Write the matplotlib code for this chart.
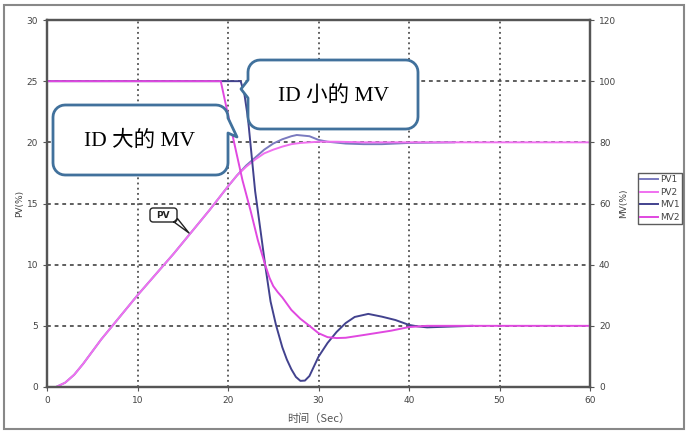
import numpy as np
import matplotlib.pyplot as plt
from matplotlib.patches import Polygon, Rectangle
from matplotlib.transforms import Affine2D

# --- data ---
t_pv1 = [1, 2, 3, 4, 5, 6, 7, 8, 10, 12, 14, 16, 18, 20, 21, 22, 23, 24, 25, 26, 27,
         27.6, 29, 30, 31, 33, 35, 37, 40, 45]
pv1 = [0, 0.35, 1.0, 1.9, 2.9, 3.9, 4.8, 5.7, 7.5, 9.2, 10.9, 12.7, 14.5, 16.4, 17.3,
       18.1, 18.75, 19.4, 19.9, 20.25, 20.5, 20.6, 20.5, 20.2, 20.05, 19.9, 19.85,
       19.85, 19.95, 20.0]

t_pv2 = [1, 2, 3, 4, 5, 6, 7, 8, 10, 12, 14, 16, 18, 20, 21, 22, 23, 24, 25, 26, 27,
         28, 30, 32, 35, 60]
pv2 = [0, 0.35, 1.0, 1.9, 2.9, 3.9, 4.8, 5.7, 7.5, 9.2, 10.9, 12.7, 14.5, 16.4, 17.3,
       18.0, 18.6, 19.1, 19.4, 19.65, 19.85, 19.95, 20.05, 20.05, 20.0, 20.0]

t_mv1 = [0, 21.4, 21.8, 22.2, 22.5, 23.0, 23.6, 24.1, 24.7, 25.3, 26, 26.5, 27, 27.5,
         28, 28.5, 29, 30, 31, 32, 33, 34, 35.5, 37, 38.5, 40, 41, 42, 43, 45, 47]
mv1 = [100, 100, 96, 88, 79, 64, 51, 40, 28, 20.3, 13, 9.0, 5.8, 3.3, 2.0, 2.1, 3.6,
       9.9, 14.4, 18, 20.9, 22.9, 23.9, 23, 21.9, 20.3, 19.8, 19.5, 19.6, 19.8, 20]

t_mv2 = [0, 19.2, 20, 21, 21.6, 22.5, 23.3, 24.1, 24.6, 25, 25.5, 26, 27, 28, 29, 30,
         31, 32, 33, 35, 38, 40, 42, 60]
mv2 = [100, 100, 89, 75.6, 67.6, 57.6, 48, 40, 35.6, 33.0, 31.0, 29.3, 25.2, 22.3, 20,
       17.6, 16.3, 16, 16.1, 17, 18.4, 19.6, 20, 20]

x_ticks = [0, 10, 20, 30, 40, 50, 60]
pv_ticks = [0, 5, 10, 15, 20, 25, 30]
mv_ticks = [0, 20, 40, 60, 80, 100, 120]

W, H = 687, 434
fig = plt.figure(figsize=(W / 100, H / 100), dpi=100)
pix = Affine2D().scale(1 / W, -1 / H).translate(0, 1) + fig.transFigure

ax = fig.add_axes([47 / W, 1 - 387 / H, (590 - 47) / W, (387 - 20) / H])
ax2 = ax.twinx()

c_pv1, c_pv2, c_mv1, c_mv2 = '#7a7abf', '#f070f0', '#42428e', '#e048e0'

ax2.plot(t_mv1, mv1, color=c_mv1, lw=1.4, label='MV1')
ax.plot(t_pv1, pv1, color=c_pv1, lw=1.4, label='PV1')
ax.plot(t_pv2, pv2, color=c_pv2, lw=1.4, label='PV2')
ax2.plot(t_mv2, mv2, color=c_mv2, lw=1.4, label='MV2')

ax.set_xlim(0, 60)
ax.set_ylim(0, 30)
ax2.set_ylim(0, 120)
ax.set_xticks(x_ticks)
ax.set_yticks(pv_ticks)
ax2.set_yticks(mv_ticks)

for a in (ax, ax2):
    a.tick_params(labelsize=6.5, labelcolor='#444444', length=3, color='#555555')
    for s in a.spines.values():
        s.set_color('#555555')
        s.set_linewidth(1.6)

for v in x_ticks[1:-1]:
    ax.axvline(v, color='#333333', lw=1.1, ls=(0, (1.2, 2.2)), zorder=0)
for v in pv_ticks[1:-1]:
    ax.axhline(v, color='#333333', lw=1.1, ls=(0, (2.5, 2.5)), zorder=0)

ax.set_ylabel('PV(%)', fontsize=6.5, color='#444444', labelpad=2)
ax2.set_ylabel('MV(%)', fontsize=6.5, color='#444444', labelpad=2)
ax.set_xlabel('时间（Sec）', fontsize=8, color='#555555', labelpad=6,
              fontfamily=['Noto Sans CJK SC', 'DejaVu Sans'])

# legend
h1, l1 = ax.get_legend_handles_labels()
h2, l2 = ax2.get_legend_handles_labels()
hd = dict(zip(l1 + l2, h1 + h2))
order = ['PV1', 'PV2', 'MV1', 'MV2']
leg = fig.legend([hd[k] for k in order], order, loc='upper left',
                 bbox_to_anchor=(638 / W, 1 - 173 / H), fontsize=6.5,
                 handlelength=2.0, handletextpad=0.2, borderpad=0.25,
                 labelspacing=0.4, borderaxespad=0, fancybox=False)
leg.get_frame().set_edgecolor('#333333')
leg.get_frame().set_linewidth(1.0)
for tx in leg.get_texts():
    tx.set_color('#444444')


def bubble(x0, y0, x1, y1, r, side, tail, ec, lw):
    # rounded box in pixel coords, tail inserted on the given side
    pts = []
    def arc(cx, cy, a0, a1):
        for a in np.linspace(a0, a1, 8):
            pts.append((cx + r * np.cos(a), cy + r * np.sin(a)))
    arc(x0 + r, y0 + r, np.pi, 1.5 * np.pi)
    arc(x1 - r, y0 + r, 1.5 * np.pi, 2 * np.pi)
    if side == 'right':
        pts.extend(tail)
    arc(x1 - r, y1 - r, 0, 0.5 * np.pi)
    arc(x0 + r, y1 - r, 0.5 * np.pi, np.pi)
    if side == 'left':
        pts.extend(tail)
    fig.patches.append(Polygon(pts, closed=True, fc='white', ec=ec, lw=lw,
                               transform=pix, zorder=5, joinstyle='round'))


blue = '#41719c'
bubble(53, 105, 228, 175, 12, 'right', [(228, 118), (237, 137), (228, 133)], blue, 2)
bubble(248, 60, 418, 129, 12, 'left', [(248, 98), (241, 89), (248, 80)], blue, 2)
serif_cjk = ['Liberation Serif', 'Noto Sans CJK SC']
fig.text(140 / W, 1 - 141 / H, 'ID 大的 MV', fontsize=15.5, ha='center', va='center',
         fontfamily=serif_cjk, zorder=6)
fig.text(333 / W, 1 - 96 / H, 'ID 小的 MV', fontsize=15.5, ha='center', va='center',
         fontfamily=serif_cjk, zorder=6)

# small "PV" tag
bubble(150, 208, 177, 222, 3, 'right', [(177, 218), (189, 233), (174, 222)], '#222222', 1)
fig.text(163 / W, 1 - 215 / H, 'PV', fontsize=6.5, fontweight='bold', ha='center',
         va='center', color='#222222', zorder=6)

# outer frame
fig.patches.append(Rectangle((4, 5), 680, 424, fill=False, ec='#888888', lw=1.5,
                             transform=pix))

fig.savefig('out.png', dpi=100)
